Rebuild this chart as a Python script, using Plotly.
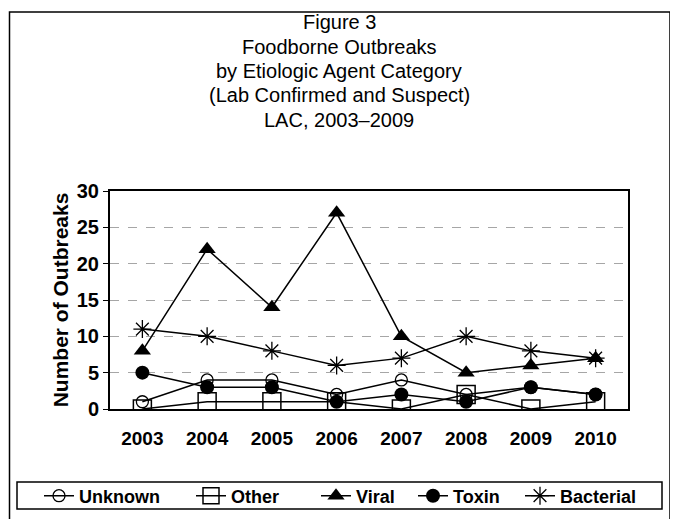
import plotly.graph_objects as go

years = ["2003", "2004", "2005", "2006", "2007", "2008", "2009", "2010"]
unknown = [1, 4, 4, 2, 4, 2, 3, 2]
other = [0, 1, 1, 1, 0, 2, 0, 1]
viral = [8, 22, 14, 27, 10, 5, 6, 7]
toxin = [5, 3, 3, 1, 2, 1, 3, 2]
bacterial = [11, 10, 8, 6, 7, 10, 8, 7]

title_lines = ["Figure 3", "Foodborne Outbreaks", "by Etiologic Agent Category",
               "(Lab Confirmed and Suspect)", "LAC, 2003\u20132009"]

FONT = "Liberation Sans, Arial"

series = [
    ("Unknown", unknown, dict(symbol="circle-open", size=12, color="black", line=dict(width=1.3, color="black"))),
    ("Other", other, dict(symbol="square-open", size=18, color="black", line=dict(width=1.5, color="black"))),
    ("Viral", viral, dict(symbol="triangle-up", size=15, color="black")),
    ("Toxin", toxin, dict(symbol="circle", size=14, color="black")),
    ("Bacterial", bacterial, dict(symbol="asterisk-open", size=15, color="black", line=dict(width=1.3, color="black"))),
]

OFF = 8
W, H = 678, 519
L, T = 102, 183
R = W - 620
B = H - 401
pw, ph = W - L - R, H - T - B

def px(x):
    return (x - OFF - L) / pw

def py(y):
    return (H - B - (y - OFF)) / ph

legend_text_x = [84, 236, 361, 458, 565]
legend_names = ["legend", "legend2", "legend3", "legend4", "legend5"]

fig = go.Figure()
for (name, vals, mk), lg in zip(series, legend_names):
    fig.add_trace(go.Scatter(x=years, y=vals, name=name, mode="lines+markers",
                             line=dict(color="black", width=1.5), marker=mk, legend=lg))

annotations = []
ys = [22, 46.5, 71, 95.5, 120]
for txt, yy in zip(title_lines, ys):
    annotations.append(dict(text=txt, x=px(339), y=py(yy), xref="paper", yref="paper",
                            xanchor="center", yanchor="middle", showarrow=False,
                            font=dict(family=FONT, size=20, color="black")))

legends = {}
for lg, tx in zip(legend_names, legend_text_x):
    legends[lg] = dict(orientation="h", x=px(tx - 45), xanchor="left", y=py(496), yanchor="middle",
                       bgcolor="rgba(0,0,0,0)", borderwidth=0, itemwidth=30,
                       font=dict(size=18, family=FONT, color="black", weight="bold"))

fig.update_layout(
    width=W, height=H,
    margin=dict(l=L, r=R, t=T, b=B),
    paper_bgcolor="white", plot_bgcolor="white",
    font=dict(family=FONT, color="black"),
    showlegend=True,
    annotations=annotations,
    shapes=[
        dict(type="rect", xref="paper", yref="paper", x0=px(9.5), x1=px(670), y0=py(560), y1=py(12),
             line=dict(color="black", width=1.5), fillcolor="rgba(0,0,0,0)", layer="below"),
        dict(type="rect", xref="paper", yref="paper", x0=px(17), x1=px(662), y0=py(509), y1=py(482),
             line=dict(color="black", width=1.5), fillcolor="rgba(0,0,0,0)", layer="below"),
    ],
    **legends,
)
fig.update_xaxes(type="category", range=[-0.5, 7.5], showline=True, linecolor="black", linewidth=2,
                 mirror=True, ticks="", showgrid=False,
                 tickfont=dict(size=19, weight="bold", family=FONT), ticklabelstandoff=11)
fig.update_yaxes(range=[0, 30], dtick=5, showline=True, linecolor="black", linewidth=2, mirror=True,
                 ticks="outside", ticklen=5, tickcolor="black", showgrid=True, gridcolor="#a6a6a6",
                 griddash="dash", gridwidth=1.2, zeroline=False,
                 tickfont=dict(size=20, weight="bold", family=FONT),
                 title=dict(text="Number of Outbreaks", standoff=2,
                            font=dict(size=21, weight="bold", family=FONT)))

fig.write_html("out.html")
